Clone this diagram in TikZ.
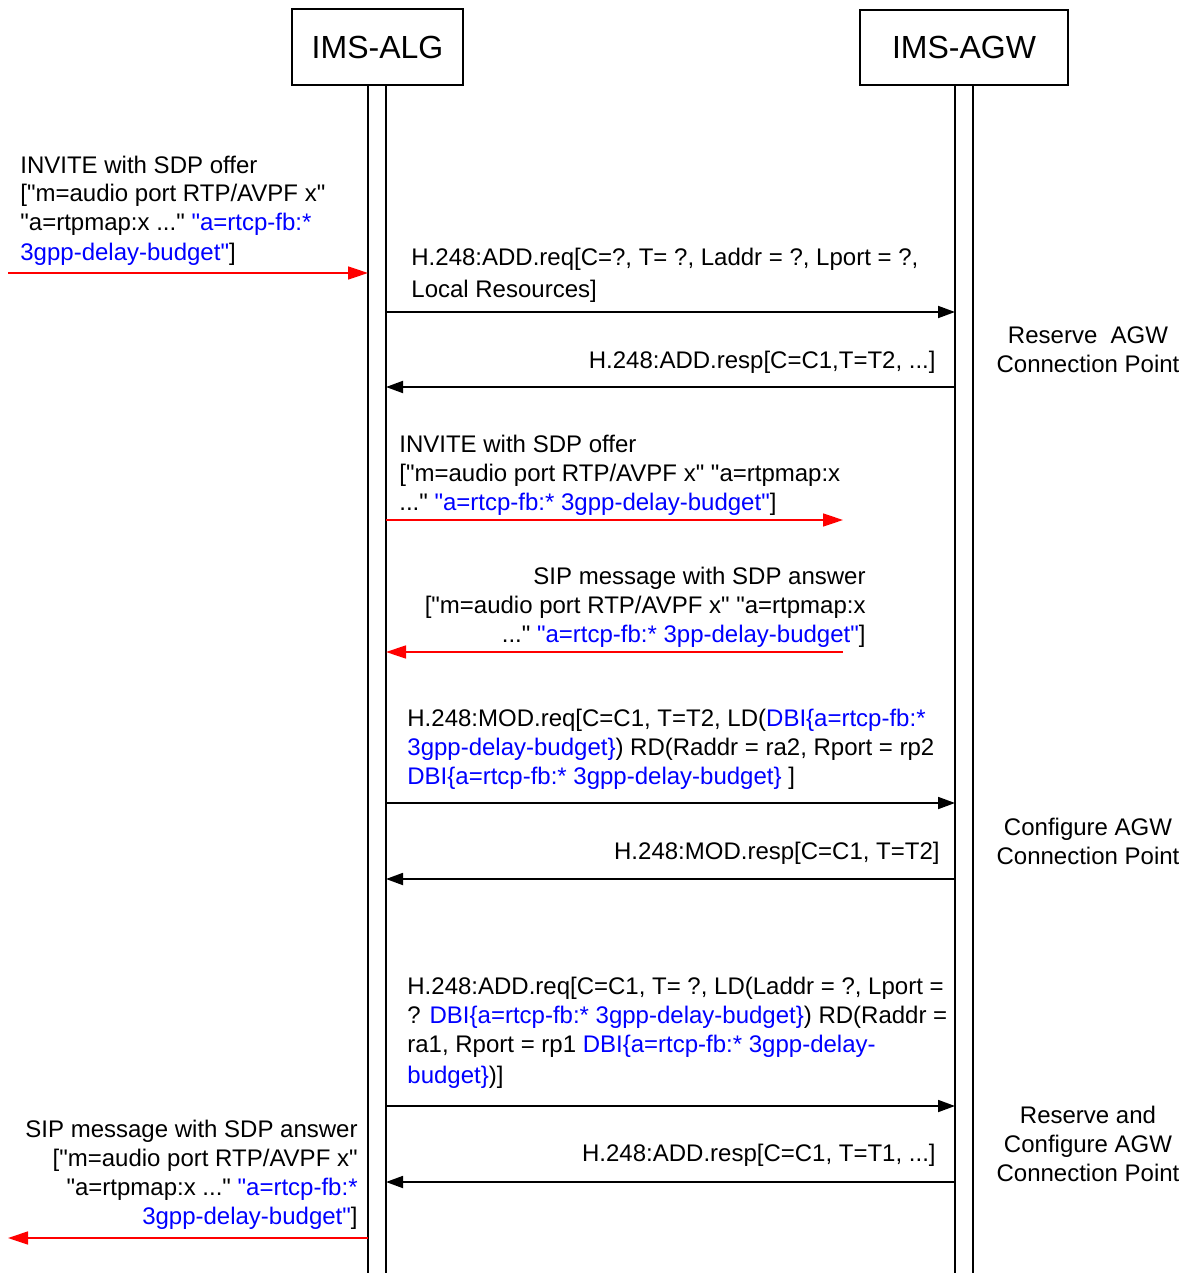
\documentclass[tikz,border=0pt]{standalone}
\usepackage{fontspec}
\setmainfont{Liberation Sans}[Ligatures=TeXOff]
\usetikzlibrary{arrows.meta,positioning}
\definecolor{sipred}{HTML}{FF0000}
\definecolor{sdpblue}{HTML}{0000FF}
\tikzset{
  entity/.style={draw,line width=0.8pt,inner sep=0pt,font=\fontsize{16}{19}\selectfont},
  life/.style={line width=0.9pt},
  msg/.style={-{Triangle[length=8.5pt,width=6pt]},line width=0.9pt},
  sip/.style={-{Triangle[length=10pt,width=6.5pt]},draw=sipred,line width=0.75pt},
  lbl/.style={inner sep=0pt,font=\fontsize{12}{14.5}\selectfont},
  lbll/.style={lbl,align=left,anchor=base west},
  lblr/.style={lbl,align=right,anchor=base east},
  note/.style={lbl,align=center,anchor=base},
}
\newcommand{\sdp}[1]{\textcolor{sdpblue}{#1}}
\begin{document}
\begin{tikzpicture}[x=0.5pt,y=-0.5pt]
  \useasboundingbox (0,0) rectangle (1191,1273);
  % entities
  \node[entity,minimum width=85.5pt,minimum height=38pt] (alg) at (377.5,47) {IMS-ALG};
  \node[entity,minimum width=104pt,minimum height=37.5pt] (agw) at (964,47.5) {IMS-AGW};
  \coordinate (algL) at (368,85); \coordinate (algR) at (386,85);
  \coordinate (agwL) at (955,85); \coordinate (agwR) at (973,85);
  \coordinate (bot) at (0,1273);
  \draw[life] (algL) -- (algL |- bot); \draw[life] (algR) -- (algR |- bot);
  \draw[life] (agwL) -- (agwL |- bot); \draw[life] (agwR) -- (agwR |- bot);

  % incoming offer
  \node[lbll] (inv1) at (20,260) {INVITE with SDP offer\\\relax["m=audio port RTP/AVPF x"\\"a=rtpmap:x ..." \sdp{"a=rtcp-fb:*}\\\sdp{3gpp-delay-budget"}]};
  \coordinate (inS) at (8,273);
  \draw[sip] (inS) -- (algL |- inS);

  % reserve
  \node[lbll] (add1) at (411,297) {H.248:ADD.req[C=?, T= ?, Laddr = ?, Lport = ?,\\[1.5pt]Local Resources]};
  \coordinate (m1) at (0,312);
  \draw[msg] (algR |- m1) -- (agwL |- m1);
  \node[lblr] (add1r) at (936,368) {H.248:ADD.resp[C=C1,T=T2, ...]};
  \coordinate (m2) at (0,387);
  \draw[msg] (agwL |- m2) -- (algR |- m2);
  \node[note] (res1) at (1088,372) {Reserve\ \ AGW\\Connection Point};

  % offer onwards
  \node[lbll] (inv2) at (399,510) {INVITE with SDP offer\\\relax["m=audio port RTP/AVPF x" "a=rtpmap:x\\..." \sdp{"a=rtcp-fb:* 3gpp-delay-budget"}]};
  \coordinate (outS) at (843,520);
  \draw[sip] (algR |- outS) -- (outS);

  % answer back
  \node[lblr] (ans1) at (866,642) {SIP message with SDP answer\\\relax["m=audio port RTP/AVPF x" "a=rtpmap:x\\..." \sdp{"a=rtcp-fb:* 3pp-delay-budget"}]};
  \coordinate (ansS) at (843,652);
  \draw[sip] (ansS) -- (algR |- ansS);

  % configure
  \node[lbll] (mod1) at (407,784) {H.248:MOD.req[C=C1, T=T2, LD(\sdp{DBI\{a=rtcp-fb:*}\\\sdp{3gpp-delay-budget\}}) RD(Raddr = ra2, Rport = rp2\\\sdp{DBI\{a=rtcp-fb:* 3gpp-delay-budget\}} ]};
  \coordinate (m3) at (0,803);
  \draw[msg] (algR |- m3) -- (agwL |- m3);
  \node[lblr] (mod1r) at (940,859) {H.248:MOD.resp[C=C1, T=T2]};
  \coordinate (m4) at (0,879);
  \draw[msg] (agwL |- m4) -- (algR |- m4);
  \node[note] (cfg1) at (1088,864) {Configure AGW\\Connection Point};

  % reserve and configure
  \node[lbll] (add2) at (407,1083) {H.248:ADD.req[C=C1, T= ?, LD(Laddr = ?, Lport =\\? \sdp{DBI\{a=rtcp-fb:* 3gpp-delay-budget\}}) RD(Raddr =\\ra1, Rport = rp1 \sdp{DBI\{a=rtcp-fb:* 3gpp-delay-}\\[1pt]\sdp{budget\}})]};
  \coordinate (m5) at (0,1106);
  \draw[msg] (algR |- m5) -- (agwL |- m5);
  \node[lblr] (add2r) at (936,1161) {H.248:ADD.resp[C=C1, T=T1, ...]};
  \coordinate (m6) at (0,1182);
  \draw[msg] (agwL |- m6) -- (algR |- m6);
  \node[note] (res2) at (1088,1181) {Reserve and\\Configure AGW\\Connection Point};

  % answer out
  \node[lblr] (ans2) at (358,1224) {SIP message with SDP answer\\\relax["m=audio port RTP/AVPF x"\\"a=rtpmap:x ..." \sdp{"a=rtcp-fb:*}\\\sdp{3gpp-delay-budget"}]};
  \coordinate (outA) at (8,1238);
  \draw[sip] (algL |- outA) -- (outA);
\end{tikzpicture}
\end{document}
